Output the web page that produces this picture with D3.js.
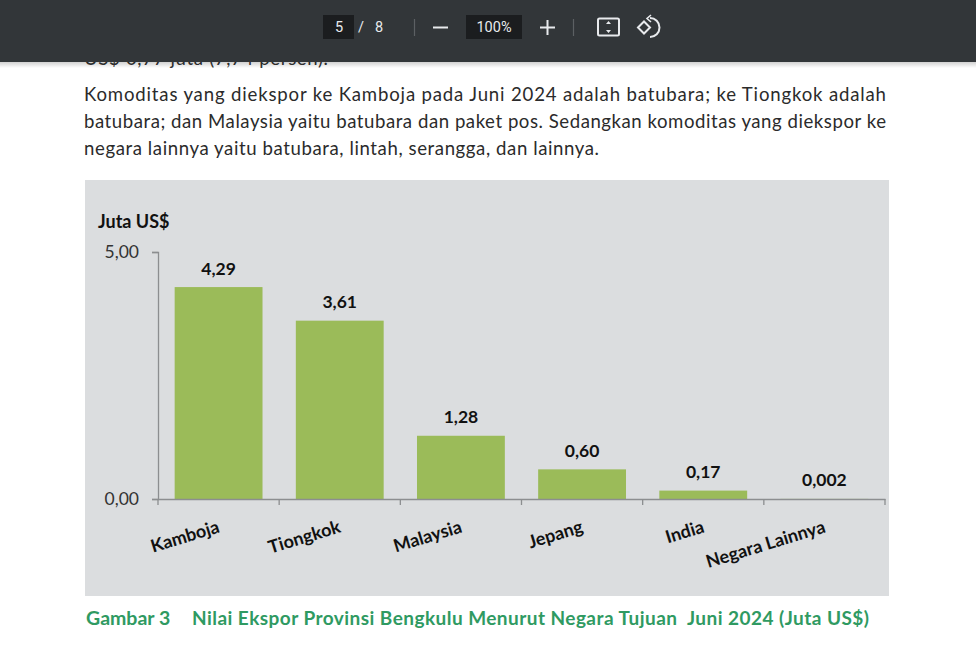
<!DOCTYPE html>
<html>
<head>
<meta charset="utf-8">
<script src="https://cdn.jsdelivr.net/npm/d3@7"></script>
<style>
html, body { margin: 0; padding: 0; background: #fff; overflow: hidden; }
text { font-family: Lato, "Noto Sans", sans-serif; }
</style>
</head>
<body>
<svg id="chart" width="976" height="657"></svg>
<script>
// chart values
const categories = ["Kamboja", "Tiongkok", "Malaysia", "Jepang", "India", "Negara Lainnya"];
const values = [4.29, 3.61, 1.28, 0.60, 0.17, 0.002];
const valueLabels = ["4,29", "3,61", "1,28", "0,60", "0,17", "0,002"];
const yTicks = [0, 5];

// page text around the chart
const paragraph = [
	"Komoditas yang diekspor ke Kamboja pada Juni 2024 adalah batubara; ke Tiongkok adalah",
	"batubara; dan Malaysia yaitu batubara dan paket pos. Sedangkan komoditas yang diekspor ke",
	"negara lainnya yaitu batubara, lintah, serangga, dan lainnya."
];
const paragraphWidths = [802, 802, 515];
const caption = "Gambar 3";
const captionTitle = "Nilai Ekspor Provinsi Bengkulu Menurut Negara Tujuan  Juni 2024 (Juta US$)";

const svg = d3.select("#chart");

// Plot area
const x = d3.scaleBand().domain(categories).range([158, 885]).paddingInner(0.275).paddingOuter(0.1375);
const y = d3.scaleLinear().domain([0, 5]).range([499, 252]);

svg.selectAll(".para")
	.data(paragraph)
	.enter()
	.append("text")
	.attr("class", "para")
	.attr("x", 84)
	.attr("y", (d, i) => 101 + i * 27)
	.attr("font-size", 18.6)
	.attr("fill", "#2b2b2b")
	.attr("textLength", (d, i) => paragraphWidths[i])
	.attr("lengthAdjust", "spacing")
	.text(d => d);

// Chart background
svg.append("rect")
	.attr("x", 85).attr("y", 180)
	.attr("width", 804).attr("height", 416)
	.attr("fill", "#dbdddf");

svg.append("text")
	.attr("x", 98).attr("y", 228)
	.attr("font-size", 18).attr("font-weight", "bold").attr("fill", "#111")
	.text("Juta US$");

// Bars
svg.selectAll(".bar")
	.data(categories)
	.enter()
	.append("rect")
	.attr("class", "bar")
	.attr("x", d => x(d))
	.attr("width", x.bandwidth())
	.attr("y", (d, i) => y(values[i]))
	.attr("height", (d, i) => y(0) - y(values[i]))
	.attr("fill", "#9bbb59");

// Axes
const yAxis = svg.append("g")
	.attr("transform", "translate(158,0)")
	.call(d3.axisLeft(y).tickValues(yTicks).tickSize(6).tickFormat(d => d3.format(".2f")(d).replace(".", ",")));
yAxis.selectAll("text").attr("font-size", 17.5).attr("fill", "#333").attr("dx", -10)
	.style("font-family", "Lato, sans-serif");

const xAxis = svg.append("g")
	.attr("transform", "translate(0,499)")
	.call(d3.axisBottom(x).tickSize(0).tickFormat(""));

// Ticks sit between the bars, so they come from the band edges
const edges = categories.map(d => x(d) - x.step() * x.paddingInner() / 2).concat(885);
edges[0] = 158;
svg.selectAll(".xtick")
	.data(edges)
	.enter()
	.append("line")
	.attr("class", "xtick")
	.attr("x1", d => d).attr("x2", d => d)
	.attr("y1", 499).attr("y2", 505);

svg.selectAll(".domain, .tick line, .xtick").attr("stroke", "#8c8e90").attr("stroke-width", 1.3);

// Value labels
svg.selectAll(".vlabel")
	.data(categories)
	.enter()
	.append("text")
	.attr("class", "vlabel")
	.attr("x", d => x(d) + x.bandwidth() / 2)
	.attr("y", (d, i) => y(values[i]) - 12.5)
	.attr("text-anchor", "middle")
	.attr("font-size", 17.5).attr("font-weight", "bold").attr("fill", "#111")
	.text((d, i) => valueLabels[i]);

// Slanted category labels, anchored on their right end
svg.selectAll(".clabel")
	.data(categories)
	.enter()
	.append("text")
	.attr("class", "clabel")
	.attr("transform", d => `translate(${x(d) + x.bandwidth() / 2 + 2},532) rotate(-17)`)
	.attr("text-anchor", "end")
	.attr("font-size", 18).attr("font-weight", "bold").attr("fill", "#111")
	.text(d => d);

// Figure caption
svg.append("text")
	.attr("x", 86).attr("y", 625)
	.attr("font-size", 19.5).attr("font-weight", "bold").attr("fill", "#2f9a62")
	.text(caption);
svg.append("text")
	.attr("x", 192).attr("y", 625)
	.attr("font-size", 19).attr("font-weight", "bold").attr("fill", "#2f9a62")
	.style("white-space", "pre")
	.attr("textLength", 677)
	.text(captionTitle);

// Soft shadow under the PDF viewer toolbar
const shade = svg.append("defs").append("linearGradient")
	.attr("id", "shade").attr("x1", 0).attr("x2", 0).attr("y1", 0).attr("y2", 1);
shade.append("stop").attr("offset", 0).attr("stop-color", "#000").attr("stop-opacity", 0.18);
shade.append("stop").attr("offset", 1).attr("stop-color", "#000").attr("stop-opacity", 0);
svg.append("text")
	.attr("x", 84).attr("y", 64.5)
	.attr("font-size", 18.6).attr("fill", "#333")
	.attr("textLength", 244)
	.text("US$ 0,77 juta (7,74 persen).");
svg.append("rect").attr("y", 62).attr("width", 976).attr("height", 6).attr("fill", "url(#shade)");

// PDF viewer toolbar
svg.append("rect").attr("width", 976).attr("height", 62).attr("fill", "#323639");

svg.append("rect").attr("x", 323).attr("y", 15).attr("width", 31).attr("height", 24).attr("fill", "#1b1d1f");
svg.append("rect").attr("x", 466).attr("y", 15).attr("width", 56).attr("height", 24).attr("fill", "#1b1d1f");

const toolbarLabels = [
	{ t: "5", x: 339 },
	{ t: "/", x: 361 },
	{ t: "8", x: 379 },
	{ t: "100%", x: 494 }
];
svg.selectAll(".tb")
	.data(toolbarLabels)
	.enter()
	.append("text")
	.attr("class", "tb")
	.attr("x", d => d.x).attr("y", 32)
	.attr("text-anchor", "middle")
	.attr("fill", "#e8eaed")
	.attr("font-size", 14.5)
	.style("font-family", "Roboto, sans-serif")
	.text(d => d.t);

const tool = svg.append("g").attr("fill", "none").attr("stroke", "#e8eaed").attr("stroke-width", 2);
tool.append("path").attr("d", "M433,27.5H448");
tool.append("path").attr("d", "M540,27.5H555M547.5,20V35");
tool.append("rect").attr("x", 598).attr("y", 18.5).attr("width", 21).attr("height", 17).attr("rx", 1.5);
tool.append("path").attr("d", "M608.5,21l-2.5,3h5zM608.5,33l-2.5,-3h5z").attr("fill", "#e8eaed").attr("stroke", "none");
tool.append("path").attr("d", "M638,27.5l6,-6l6,6l-6,6z");
tool.append("path").attr("d", "M650,18a9.5,9.5 0 0 1 0,19");
tool.append("path").attr("d", "M651,15l-4,3.5l4,3.5").attr("stroke-width", 1.6);
svg.append("path").attr("d", "M414.5,19V36M573.5,19V36").attr("stroke", "#5c6063").attr("stroke-width", 1.2);
</script>
</body>
</html>
